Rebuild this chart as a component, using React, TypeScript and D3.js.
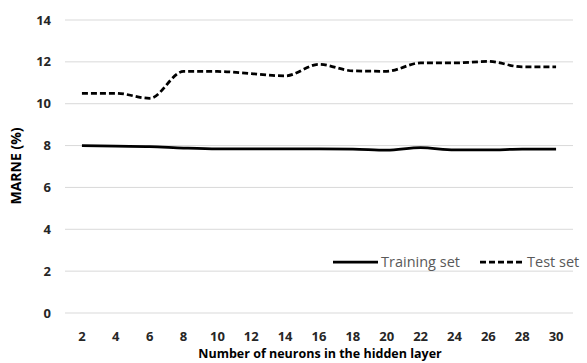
import React from "react";
import * as d3 from "d3";

const neurons = [2, 4, 6, 8, 10, 12, 14, 16, 18, 20, 22, 24, 26, 28, 30];
const trainingSet = [8.0, 7.97, 7.95, 7.88, 7.84, 7.84, 7.84, 7.84, 7.83, 7.78, 7.9, 7.79, 7.79, 7.83, 7.83];
const testSet = [10.5, 10.5, 10.26, 11.54, 11.54, 11.44, 11.33, 11.88, 11.57, 11.55, 11.95, 11.95, 12.02, 11.76, 11.76];
const yTicks = [0, 2, 4, 6, 8, 10, 12, 14];
const seriesNames = ["Training set", "Test set"];

const W = 587;
const H = 363;
const left = 65;
const right = 573;
const top = 20;
const bottom = 313;
const font = "'Open Sans', 'Liberation Sans', sans-serif";

export default function App() {
  const x = d3.scaleBand<number>().domain(neurons).range([left, right]);
  const y = d3.scaleLinear().domain([0, 14]).range([bottom, top]);
  const cx = (d: number) => (x(d) as number) + x.bandwidth() / 2;
  const line = d3
    .line<number>()
    .x((_, i) => cx(neurons[i]))
    .y((v) => y(v))
    .curve(d3.curveMonotoneX);

  return (
    <svg width={W} height={H} style={{ position: "absolute", left: 0, top: 0, background: "#fff" }}>
      {yTicks.map((t) => (
        <g key={t}>
          <line x1={left} x2={right} y1={y(t)} y2={y(t)} stroke="#d9d9d9" strokeWidth={1} />
          <text x={51} y={y(t)} dy="0.35em" textAnchor="end" fontFamily={font} fontWeight="bold" fontSize={13} fill="#262626">
            {t}
          </text>
        </g>
      ))}
      {neurons.map((n) => (
        <text key={n} x={cx(n)} y={336} dy="0.35em" textAnchor="middle" fontFamily={font} fontWeight="bold" fontSize={13} fill="#262626">
          {n}
        </text>
      ))}
      <path d={line(testSet) || ""} fill="none" stroke="#000" strokeWidth={2.75} strokeDasharray="6,3" />
      <path d={line(trainingSet) || ""} fill="none" stroke="#000" strokeWidth={2.75} />
      <text x={320} y={354} dy="0.35em" textAnchor="middle" fontFamily={font} fontWeight="bold" fontSize={12.5} fill="#000">
        Number of neurons in the hidden layer
      </text>
      <text transform="translate(16,166) rotate(-90)" dy="0.35em" textAnchor="middle" fontFamily={font} fontWeight="bold" fontSize={14} fill="#000">
        MARNE (%)
      </text>
      <g>
        <line x1={333} x2={378} y1={262} y2={262} stroke="#000" strokeWidth={2.75} />
        <text x={381} y={262} dy="0.35em" fontFamily={font} fontSize={14.5} fill="#595959">
          {seriesNames[0]}
        </text>
        <line x1={480} x2={525} y1={262} y2={262} stroke="#000" strokeWidth={2.75} strokeDasharray="6,3" />
        <text x={527} y={262} dy="0.35em" fontFamily={font} fontSize={14.5} fill="#595959">
          {seriesNames[1]}
        </text>
      </g>
    </svg>
  );
}
